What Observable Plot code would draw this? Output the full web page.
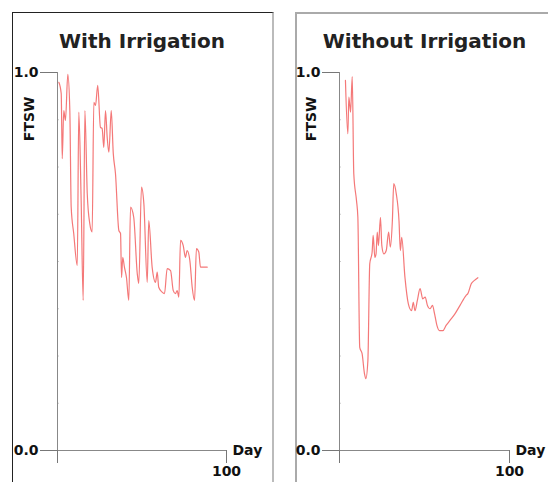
<!DOCTYPE html>
<html>
<head>
<meta charset="utf-8">
<script src="https://cdn.jsdelivr.net/npm/d3@7"></script>
<script src="https://cdn.jsdelivr.net/npm/@observablehq/plot@0.6"></script>
<style>
  html, body { margin: 0; padding: 0; background: #fff; }
  #wrap { position: relative; width: 548px; height: 482px; overflow: hidden; background: #fff; font-family: "DejaVu Sans", Verdana, sans-serif; }
  .box { position: absolute; }
  #boxL { left: 12px; top: 12px; width: 259px; height: 500px; border-top: 1px solid #222; border-left: 1px solid #222; border-right: 2px solid #bbb; }
  #boxR { left: 295px; top: 12px; width: 300px; height: 500px; border-top: 2px solid #aaa; border-left: 2px solid #aaa; }
  .panel { position: absolute; top: 0; }
  .panel svg { overflow: visible; }
</style>
</head>
<body>
<div id="wrap">
  <div class="box" id="boxL"></div>
  <div class="box" id="boxR"></div>
  <div class="panel" id="pL" style="left:0px"></div>
  <div class="panel" id="pR" style="left:282px"></div>
</div>
<script>
// ---- data ----
const panelTitles = ["With Irrigation", "Without Irrigation"];
const yTickValues = [0, 1];
const xTickValues = [0, 100];
const xLabel = "Day";
const yLabel = "FTSW";

const withDays = [0.8,2.2,2.8,3.7,4.7,6.1,7.3,8.1,9.6,11.7,12.6,14.0,15.2,16.2,17.6,19.1,20.5,21.5,22.5,23.8,25.4,26.4,27.4,28.4,29.4,30.4,31.8,33.0,34.3,36.3,37.3,37.9,38.6,39.6,40.8,42.2,43.2,45.1,47.2,48.1,49.7,51.1,53.1,54.0,56.0,58.0,59.0,59.9,61.9,63.3,64.9,66.9,68.5,69.8,70.8,71.8,72.8,74.4,75.7,76.7,78.3,79.7,81.1,82.2,83.6,84.6,88.6];
const withFtsw = [0.974,0.944,0.772,0.899,0.873,0.995,0.899,0.644,0.574,0.489,0.895,0.661,0.397,0.899,0.68,0.60,0.578,0.921,0.913,0.966,0.855,0.852,0.802,0.899,0.829,0.789,0.899,0.786,0.733,0.582,0.574,0.458,0.511,0.485,0.458,0.397,0.644,0.617,0.468,0.442,0.697,0.653,0.445,0.608,0.485,0.445,0.472,0.432,0.419,0.415,0.481,0.476,0.423,0.415,0.423,0.406,0.556,0.542,0.511,0.529,0.503,0.432,0.397,0.534,0.525,0.485,0.485];

const withoutDays = [3.5,4.9,5.5,6.5,7.5,8.4,10,10.8,11.9,13.3,14.7,15.5,16.7,17.8,19.2,19.8,20.8,21.5,22.2,22.9,24.1,24.9,26.1,27.5,28.9,29.9,31.1,31.9,33.4,35.0,35.8,36.6,38.5,40.5,42.4,43.4,44.4,45.8,47.4,49.0,50.4,51.7,53.3,54.7,55.9,57.3,58.8,60.8,62.7,65.0,68.0,70.9,74.4,75.5,77.5,79.4,81.4];
const withoutFtsw = [0.979,0.838,0.935,0.895,0.989,0.732,0.661,0.617,0.273,0.256,0.203,0.190,0.238,0.494,0.525,0.569,0.511,0.520,0.578,0.542,0.617,0.542,0.520,0.529,0.578,0.538,0.608,0.706,0.679,0.608,0.529,0.564,0.458,0.388,0.370,0.392,0.370,0.397,0.428,0.401,0.406,0.384,0.375,0.384,0.362,0.331,0.317,0.317,0.331,0.344,0.362,0.384,0.410,0.415,0.441,0.450,0.457];

const minorTicks = [0.125,0.25,0.375,0.5,0.625,0.75,0.875];

function panel(days, vals, title, width, marginRight) {
  const data = days.map((d, i) => ({day: d, ftsw: vals[i]}));
  return Plot.plot({
    width, height: 482,
    marginLeft: 57, marginRight, marginTop: 72, marginBottom: 32,
    style: {fontFamily: "'DejaVu Sans', Verdana, sans-serif", background: "transparent", overflow: "visible"},
    x: {domain: [0, 100], axis: null},
    y: {domain: [0, 1], axis: null},
    marks: [
      Plot.axisY(minorTicks, {tickSize: -2, stroke: "#ccc", tickFormat: () => "", label: null}),
      Plot.ruleX([0], {stroke: "#888", strokeWidth: 1}),
      Plot.ruleY([0], {stroke: "#888", strokeWidth: 1}),
      Plot.axisY(yTickValues, {tickSize: 17, tickPadding: 2, tickFormat: d3.format(".1f"), stroke: "#777", fill: "#111", fontSize: 14, fontWeight: "bold", label: null}),
      Plot.axisX(xTickValues, {tickSize: 13, tickPadding: 3, tickFormat: d => d === 100 ? "100" : "", stroke: "#777", fill: "#111", fontSize: 14, fontWeight: "bold", label: null}),
      Plot.line(data, {x: "day", y: "ftsw", curve: "monotone-x", stroke: "#f26060", strokeWidth: 1.2, strokeOpacity: 0.85}),
      Plot.text([title], {frameAnchor: "top", dy: -25, lineAnchor: "bottom", fontSize: 20, fontWeight: "bold", fill: "#222"}),
      Plot.text([yLabel], {frameAnchor: "top-left", dx: -28, dy: 24, rotate: -90, textAnchor: "end", lineAnchor: "middle", fontSize: 14, fontWeight: "bold", fill: "#111"}),
      Plot.text([xLabel], {frameAnchor: "bottom-right", dx: 6, textAnchor: "start", lineAnchor: "middle", fontSize: 14, fontWeight: "bold", fill: "#111"})
    ]
  });
}

document.getElementById("pL").appendChild(panel(withDays, withFtsw, panelTitles[0], 274, 48));
document.getElementById("pR").appendChild(panel(withoutDays, withoutFtsw, panelTitles[1], 266, 39));
</script>
</body>
</html>
